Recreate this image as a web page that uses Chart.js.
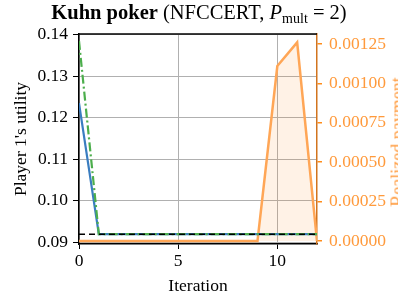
<!DOCTYPE html>
<html>
<head>
<meta charset="utf-8">
<script src="https://cdn.jsdelivr.net/npm/chart.js@4.4.1/dist/chart.umd.min.js"></script>
<style>
  html, body { margin: 0; padding: 0; background: #fff; overflow: hidden; }
  #wrap { position: relative; width: 398px; height: 297px; }
  #canvas { position: absolute; left: 0; top: 0; }
  #title {
    position: absolute; left: 0; width: 398px; top: 1px; text-align: center;
    font-family: 'Liberation Serif', 'DejaVu Serif', serif; font-size: 20.5px; color: #000;
    white-space: nowrap;
  }
  #title sub { font-size: 14px; vertical-align: -4px; line-height: 0; }
  #rightLabel {
    position: absolute; left: 398px; top: 142px;
    transform: translate(-50%, -50%) rotate(-90deg);
    font-family: 'Liberation Serif', 'DejaVu Serif', serif; font-size: 18px; color: #ff9a3c;
    white-space: nowrap;
  }
</style>
</head>
<body>
<div id="wrap">
  <canvas id="canvas" width="398" height="297"></canvas>
  <div id="title"><b>Kuhn poker</b> (NFCCERT, <i>P</i><sub>mult</sub> = 2)</div>
  <div id="rightLabel">Realized payment</div>
</div>
<script>
const iterations = [0, 1, 2, 3, 4, 5, 6, 7, 8, 9, 10, 11, 12];
const utilitySolid = [0.1235, 0.0919, 0.0919, 0.0919, 0.0919, 0.0919, 0.0919, 0.0919, 0.0919, 0.0919, 0.0919, 0.0919, 0.0919];
const utilityDashDot = [0.1385, 0.0919, 0.0919, 0.0919, 0.0919, 0.0919, 0.0919, 0.0919, 0.0919, 0.0919, 0.0919, 0.0919, 0.0919];
const utilityTarget = [0.0919, 0.0919, 0.0919, 0.0919, 0.0919, 0.0919, 0.0919, 0.0919, 0.0919, 0.0919, 0.0919, 0.0919, 0.0919];
const payment = [0, 0, 0, 0, 0, 0, 0, 0, 0, 0, 0.00111, 0.00126, 0];

const xTicks = [0, 5, 10];
const yTicks = [0.09, 0.10, 0.11, 0.12, 0.13, 0.14];
const y2Ticks = [0, 0.00025, 0.0005, 0.00075, 0.001, 0.00125];

const serif = "'Liberation Serif', 'DejaVu Serif', serif";
const tickFont = { family: serif, size: 17.5 };

function pts(vals) {
  return iterations.map((x, i) => ({ x: x, y: vals[i] }));
}

// matplotlib draws a full box, Chart.js has no top axis here
const topBorder = {
  id: 'topBorder',
  afterDraw(chart) {
    const { ctx, chartArea } = chart;
    ctx.save();
    ctx.strokeStyle = '#000';
    ctx.lineWidth = 1.5;
    ctx.beginPath();
    ctx.moveTo(chartArea.left, chartArea.top);
    ctx.lineTo(chartArea.right, chartArea.top);
    ctx.stroke();
    ctx.restore();
  }
};

let ctx = document.getElementById('canvas').getContext('2d');
new Chart(ctx, {
  type: 'line',
  data: {
    datasets: [
      {
        data: pts(utilityTarget), yAxisID: 'y', borderColor: '#000', borderWidth: 1.5,
        borderDash: [6, 4], pointRadius: 0, order: 0
      },
      {
        data: pts(utilityDashDot), yAxisID: 'y', borderColor: '#4cae4c', borderWidth: 2.2,
        borderDash: [9, 3, 2, 3], pointRadius: 0, order: 1
      },
      {
        data: pts(utilitySolid), yAxisID: 'y', borderColor: '#3a7dc0', borderWidth: 2.2,
        pointRadius: 0, order: 2
      },
      {
        data: pts(payment), yAxisID: 'y2', borderColor: '#ffa656', borderWidth: 2.5,
        pointRadius: 0, fill: 'origin', backgroundColor: 'rgba(255,127,14,0.1)', order: 3
      }
    ]
  },
  options: {
    animation: false,
    responsive: false,
    layout: { padding: { top: 34, left: 0, right: 0, bottom: 0 } },
    plugins: { legend: { display: false }, tooltip: { enabled: false } },
    scales: {
      x: {
        type: 'linear', min: 0, max: 12,
        afterBuildTicks: s => { s.ticks = xTicks.map(v => ({ value: v })); },
        afterFit: s => { s.height = 53; },
        grid: { color: '#b0b0b0', tickColor: '#000', tickLength: 5, lineWidth: 1 },
        border: { color: '#000', width: 1.5 },
        ticks: { font: tickFont, color: '#000', padding: 2, maxRotation: 0 },
        title: { display: true, text: 'Iteration', font: tickFont, color: '#000', padding: { top: 0, bottom: 0 } }
      },
      y: {
        position: 'left', min: 0.08952, max: 0.14017,
        afterBuildTicks: s => { s.ticks = yTicks.map(v => ({ value: v })); },
        afterFit: s => { s.width = 79; },
        grid: { color: '#b0b0b0', tickColor: '#000', tickLength: 6, lineWidth: 1 },
        border: { color: '#000', width: 1.5 },
        ticks: { font: tickFont, color: '#000', padding: 5, callback: v => v.toFixed(2) },
        title: { display: true, text: "Player 1's utility", font: tickFont, color: '#000', padding: { top: 11, bottom: 0 } }
      },
      y2: {
        position: 'right', min: -0.000019, max: 0.001313,
        afterBuildTicks: s => { s.ticks = y2Ticks.map(v => ({ value: v })); },
        afterFit: s => { s.width = 81; },
        grid: { drawOnChartArea: false, tickColor: '#ff8c1a', tickLength: 5, lineWidth: 1.5 },
        border: { color: '#d2741e', width: 1.5 },
        ticks: { font: tickFont, color: '#ff9a3c', padding: 7, callback: v => v.toFixed(5) }
      }
    }
  },
  plugins: [topBorder]
});
</script>
</body>
</html>
